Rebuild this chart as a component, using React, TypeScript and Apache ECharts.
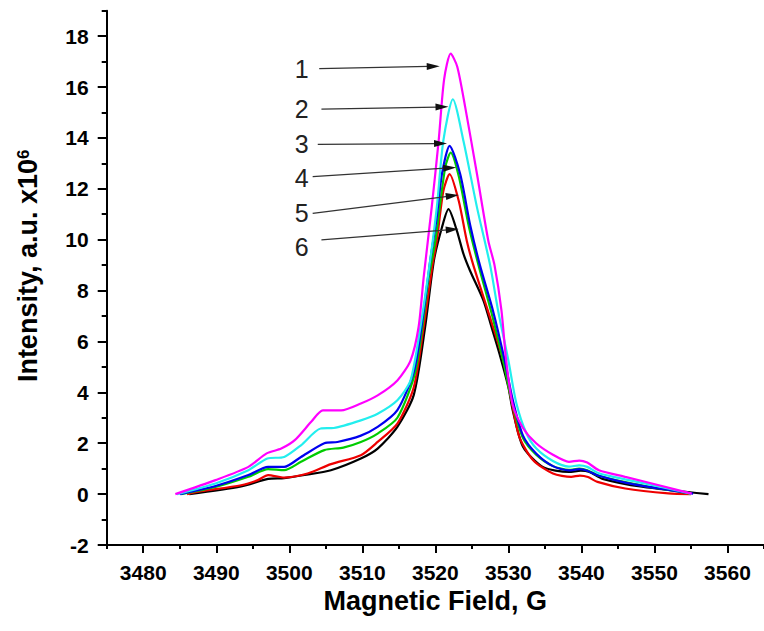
import React, { useEffect, useRef } from "react";
import * as echarts from "echarts";

const FONT = "'Liberation Sans', Arial, Helvetica, sans-serif";

const seriesNames = ["1", "2", "3", "4", "5", "6"];
const seriesColors = ["#ff00ff", "#22eeee", "#0000ee", "#00cc00", "#ee0000", "#000000"];

// [magnetic field (G), intensity (a.u. x10^6)]
const curve1: [number, number][] = [
  [3484.4, 0], [3489.9, 0.55], [3494.4, 1.07], [3496.9, 1.6], [3498.9, 1.79], [3500.75, 2.12],
  [3503.0, 2.84], [3504.6, 3.29], [3507.1, 3.29], [3509.8, 3.56], [3512.1, 3.88], [3514.8, 4.47],
  [3516.6, 5.25], [3517.7, 6.56], [3518.4, 8.52], [3519.5, 11.27], [3520.45, 13.88], [3521.2, 16.3],
  [3522.1, 17.31], [3523.0, 16.8], [3524.1, 15.19], [3525.7, 12.58], [3527.25, 9.96], [3528.1, 9.0],
  [3529.05, 7.22], [3529.7, 5.25], [3530.6, 3.5], [3532.0, 2.6], [3533.8, 2.0], [3536.1, 1.55],
  [3538.3, 1.27], [3539.7, 1.32], [3540.8, 1.24], [3542.4, 0.94], [3546.0, 0.68], [3550.6, 0.35], [3555.1, 0.02],
];
const curve2: [number, number][] = [
  [3484.6, 0], [3489.9, 0.42], [3494.4, 0.94], [3497.0, 1.4], [3499.3, 1.46], [3501.6, 1.92],
  [3504.3, 2.58], [3506.1, 2.6], [3509.8, 2.9], [3512.1, 3.16], [3514.8, 3.69], [3516.6, 4.47],
  [3517.95, 6.56], [3519.2, 9.0], [3520.2, 11.27], [3521.1, 13.9], [3522.4, 15.52], [3523.85, 13.88],
  [3525.7, 11.27], [3527.5, 9.0], [3528.6, 7.2], [3530.0, 5.25], [3531.1, 3.56], [3532.45, 2.4],
  [3533.8, 1.8], [3536.1, 1.3], [3538.3, 1.08], [3539.7, 1.13], [3540.8, 1.07], [3542.4, 0.82], [3546.0, 0.58],
  [3550.6, 0.3], [3555.0, 0.02],
];
const curve3: [number, number][] = [
  [3485.0, 0], [3489.9, 0.32], [3494.4, 0.75], [3497.1, 1.07], [3499.3, 1.07], [3501.6, 1.46],
  [3504.8, 2.0], [3506.6, 2.05], [3509.8, 2.3], [3512.1, 2.64], [3514.8, 3.3], [3517.1, 4.86],
  [3518.4, 7.2], [3519.3, 9.18], [3520.2, 10.9], [3520.9, 12.58], [3521.95, 13.69], [3523.4, 12.58],
  [3524.75, 10.6], [3526.1, 9.0], [3527.9, 7.2], [3529.5, 5.25], [3530.6, 3.7], [3532.0, 2.3],
  [3533.8, 1.6], [3536.1, 1.1], [3538.3, 0.93], [3539.7, 0.98], [3540.8, 0.92], [3542.4, 0.72], [3546.0, 0.45],
  [3550.6, 0.22], [3555.3, 0.02],
];
const curve4: [number, number][] = [
  [3485.2, 0], [3489.9, 0.28], [3494.4, 0.68], [3497.1, 0.98], [3499.3, 0.94], [3501.6, 1.27],
  [3504.8, 1.73], [3507.4, 1.83], [3509.8, 2.05], [3512.1, 2.38], [3514.8, 3.0], [3517.3, 4.86],
  [3519.1, 8.52], [3520.0, 9.96], [3521.35, 12.84], [3522.1, 13.42], [3523.2, 12.5], [3524.6, 10.5],
  [3526.0, 8.9], [3527.8, 7.0], [3529.4, 5.1], [3530.5, 3.6], [3532.0, 2.2], [3533.8, 1.55],
  [3536.1, 1.1], [3538.3, 0.95], [3539.7, 1.0], [3540.8, 0.94], [3542.4, 0.72], [3546.0, 0.47], [3550.6, 0.22],
  [3555.0, 0.02],
];
const curve5: [number, number][] = [
  [3486.0, 0], [3487.6, 0.1], [3493.4, 0.35], [3495.7, 0.55], [3497.1, 0.75], [3499.3, 0.65],
  [3502.5, 0.81], [3505.7, 1.18], [3509.8, 1.53], [3512.1, 2.05], [3514.8, 2.77], [3517.05, 4.2],
  [3518.4, 6.56], [3519.6, 9.0], [3520.2, 9.96], [3521.1, 11.92], [3521.95, 12.58], [3523.2, 11.53],
  [3524.3, 9.96], [3525.2, 9.0], [3527.2, 7.2], [3529.3, 5.25], [3530.4, 3.7], [3531.5, 2.25],
  [3533.4, 1.33], [3536.1, 0.81], [3538.6, 0.68], [3539.8, 0.73], [3540.9, 0.67], [3542.2, 0.48], [3546.0, 0.22],
  [3551.9, 0.03], [3555.0, 0],
];
const curve6: [number, number][] = [
  [3486.3, 0], [3493.4, 0.3], [3497.1, 0.6], [3499.3, 0.63], [3502.1, 0.75], [3505.7, 0.94],
  [3509.8, 1.4], [3512.1, 1.79], [3514.8, 2.64], [3517.05, 3.9], [3518.6, 6.56], [3519.8, 9.18],
  [3520.9, 10.48], [3521.8, 11.2], [3522.95, 10.35], [3523.85, 9.44], [3524.75, 8.78], [3526.6, 7.6],
  [3527.7, 6.56], [3528.8, 5.5], [3530.0, 4.2], [3530.6, 3.29], [3532.0, 1.86], [3534.7, 1.07],
  [3538.3, 0.87], [3539.9, 0.92], [3541.1, 0.87], [3542.9, 0.6], [3548.3, 0.29], [3557.4, 0],
];
const curves = [curve1, curve2, curve3, curve4, curve5, curve6];

const xMajorTicks = [3480, 3490, 3500, 3510, 3520, 3530, 3540, 3550, 3560];
const xMinorTicks = [3475, 3485, 3495, 3505, 3515, 3525, 3535, 3545, 3555, 3565];
const yMajorTicks = [-2, 0, 2, 4, 6, 8, 10, 12, 14, 16, 18];
const yMinorTicks = [-1, 1, 3, 5, 7, 9, 11, 13, 15, 17, 19];

// annotation numbers and arrows (data coordinates)
const labelTexts = ["1", "2", "3", "4", "5", "6"];
const labelPositions: [number, number][] = [
  [3501.7, 16.69], [3501.7, 15.13], [3501.7, 13.78], [3501.7, 12.44], [3501.7, 11.03], [3501.7, 9.7],
];
const arrowStarts: [number, number][] = [
  [3504.1, 16.72], [3504.4, 15.13], [3503.9, 13.75], [3503.2, 12.48], [3503.2, 11.03], [3504.4, 9.99],
];
const arrowTips: [number, number][] = [
  [3520.6, 16.82], [3521.8, 15.22], [3521.6, 13.78], [3522.85, 12.84], [3523.2, 11.76], [3523.2, 10.42],
];

export default function App() {
  const ref = useRef<HTMLDivElement>(null);
  useEffect(() => {
    if (!ref.current) return;
    const chart = echarts.init(ref.current, null, { renderer: "svg" });
    const axisLineStyle = { color: "#000", width: 2 };
    const plain = (v: number) => String(v);
    const option: any = {
      animation: false,
      backgroundColor: "#fff",
      grid: { left: 106.7, top: 10.7, right: -5.5, bottom: 86, containLabel: false },
      xAxis: [
        {
          type: "value", min: 3475, max: 3565,
          axisLine: { show: true, onZero: false, lineStyle: axisLineStyle },
          axisTick: { show: true, inside: false, length: 8, customValues: xMajorTicks, lineStyle: { color: "#000", width: 2 } },
          axisLabel: { show: true, customValues: xMajorTicks, formatter: plain, margin: 17, fontSize: 21, fontWeight: "bold", fontFamily: FONT, color: "#000" },
          splitLine: { show: false },
          name: "Magnetic Field, G", nameLocation: "middle", nameGap: 33,
          nameTextStyle: { fontSize: 27, fontWeight: "bold", fontFamily: FONT, color: "#000" },
        },
        {
          type: "value", min: 3475, max: 3565, position: "bottom",
          axisLine: { show: false, onZero: false },
          axisTick: { show: true, inside: false, length: 4, customValues: xMinorTicks, lineStyle: { color: "#000", width: 2 } },
          axisLabel: { show: false },
          splitLine: { show: false },
        },
      ],
      yAxis: [
        {
          type: "value", min: -2, max: 19,
          axisLine: { show: true, onZero: false, lineStyle: axisLineStyle },
          axisTick: { show: true, inside: false, length: 9, customValues: yMajorTicks, lineStyle: { color: "#000", width: 2 } },
          axisLabel: { show: true, customValues: yMajorTicks, formatter: plain, margin: 18, fontSize: 21, fontWeight: "bold", fontFamily: FONT, color: "#000" },
          splitLine: { show: false },
          name: "Intensity, a.u. x10{sup|6}", nameLocation: "middle", nameRotate: 90, nameGap: 65,
          nameTextStyle: {
            fontSize: 27, fontWeight: "bold", fontFamily: FONT, color: "#000", padding: [0, 0, 0, 24],
            rich: { sup: { fontSize: 17, fontWeight: "bold", fontFamily: FONT, color: "#000", verticalAlign: "top" } },
          },
        },
        {
          type: "value", min: -2, max: 19, position: "left",
          axisLine: { show: false, onZero: false },
          axisTick: { show: true, inside: false, length: 5, customValues: yMinorTicks, lineStyle: { color: "#000", width: 2 } },
          axisLabel: { show: false },
          splitLine: { show: false },
        },
      ],
      series: curves.map((c, i) => ({
        name: seriesNames[i],
        type: "line",
        xAxisIndex: 0,
        yAxisIndex: 0,
        data: c,
        showSymbol: false,
        smooth: 0.25,
        lineStyle: { color: seriesColors[i], width: 2.2 },
        z: 10 - i,
      })),
    };
    chart.setOption(option);

    const toPx = (p: [number, number]) => chart.convertToPixel({ seriesIndex: 0 }, p) as number[];
    const graphics: any[] = [];
    arrowStarts.forEach((s, i) => {
      const a = toPx(s);
      const b = toPx(arrowTips[i]);
      const dx = b[0] - a[0];
      const dy = b[1] - a[1];
      const len = Math.hypot(dx, dy);
      const ux = dx / len;
      const uy = dy / len;
      const hl = 13;
      const hw = 3.5;
      const bx = b[0] - ux * hl;
      const by = b[1] - uy * hl;
      graphics.push({
        type: "line",
        shape: { x1: a[0], y1: a[1], x2: bx + ux * 2, y2: by + uy * 2 },
        style: { stroke: "#333", lineWidth: 1.3 },
        z: 100,
      });
      graphics.push({
        type: "polygon",
        shape: { points: [[b[0], b[1]], [bx - uy * hw, by + ux * hw], [bx + uy * hw, by - ux * hw]] },
        style: { fill: "#111" },
        z: 100,
      });
    });
    labelPositions.forEach((p, i) => {
      const q = toPx(p);
      graphics.push({
        type: "text",
        x: q[0],
        y: q[1],
        style: { text: labelTexts[i], fontSize: 25, fontFamily: FONT, fill: "#222", align: "center", verticalAlign: "middle" },
        z: 100,
      });
    });
    chart.setOption({ graphic: graphics });

    return () => chart.dispose();
  }, []);
  return <div ref={ref} style={{ position: "fixed", left: 0, top: 0, width: 764, height: 631, background: "#fff" }} />;
}
